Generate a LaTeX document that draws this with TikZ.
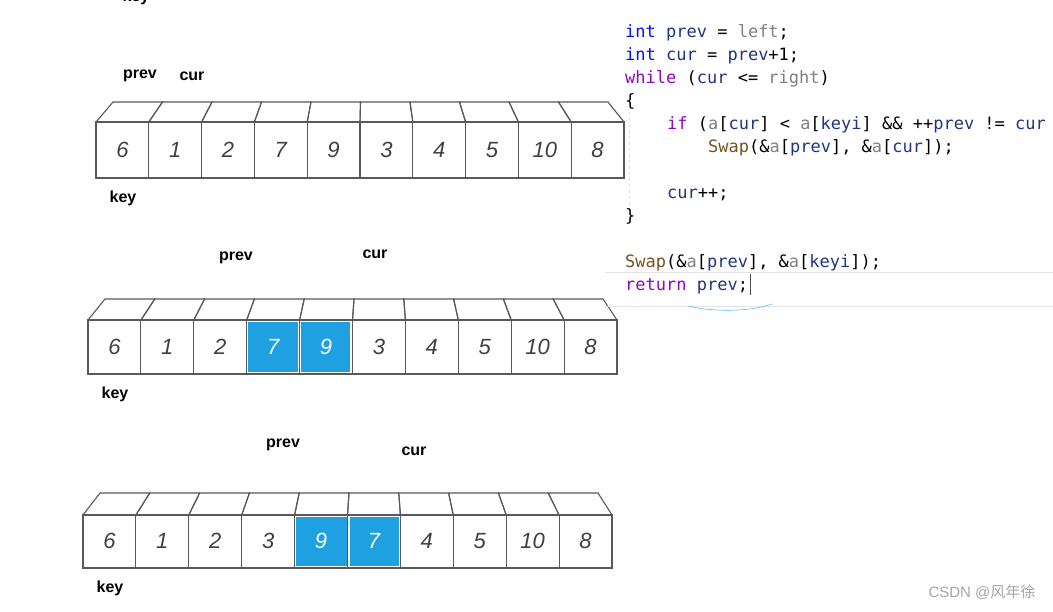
\documentclass[tikz,border=0pt]{standalone}
\usepackage{fontspec}
\setmainfont{Liberation Sans}
\newfontfamily\cf{DejaVu Sans Mono}
\newfontfamily\cjk{Noto Sans CJK SC}
\begin{document}
\begin{tikzpicture}[x=1pt,y=-1pt,
  lbl/.style={font=\bfseries\fontsize{16}{18}\selectfont,inner sep=0},
  dig/.style={font=\itshape\fontsize{22}{24}\selectfont,text=black!75},
  cell/.style={draw=black!65,line width=1.1pt},
  code/.style={anchor=base west,inner sep=0,font=\cf\fontsize{17}{19}\selectfont}]
\definecolor{kw}{RGB}{0,16,255}
\definecolor{vr}{RGB}{31,55,127}
\definecolor{pu}{RGB}{143,8,196}
\definecolor{gy}{RGB}{128,128,128}
\definecolor{sw}{RGB}{116,83,31}
\definecolor{hl}{RGB}{30,160,225}
\useasboundingbox (0,0) rectangle (1053,611);
\fill[white] (0,0) rectangle (1053,611);
\newcommand\myarr[8]{%
  \foreach \v [count=\i from 0] in {6,1,2,7,9,3,4,5,10,8}{%
    \pgfmathsetmacro\fa{#5+(#6-#5)*\i/10}%
    \pgfmathsetmacro\fb{#5+(#6-#5)*(\i+1)/10}%
    \pgfmathsetmacro\ba{#7+(#8-#7)*\i/10}%
    \pgfmathsetmacro\bb{#7+(#8-#7)*(\i+1)/10}%
    \draw[cell] (\fa,#2) -- (\ba,#4) -- (\bb,#4) -- (\fb,#2);
    \draw[cell] (\fa,#2) rectangle (\fb,#3);
  }%
}
\newcommand\digits[5]{%
  \foreach \v [count=\i from 0] in {#5}{%
    \pgfmathsetmacro\cx{#3+(#4-#3)*(\i+0.5)/10}%
    \node[dig] (#1\i) at (\cx,#2) {\v};
  }}
\myarr{a}{122}{178}{102}{96}{624}{113}{608}
\digits{a}{150}{96}{624}{6,1,2,7,9,3,4,5,10,8}
\myarr{b}{320}{374}{299}{88}{617}{105}{603}
\fill[hl] (247.5,322) rectangle (298,372);
\fill[hl] (300.5,322) rectangle (350,372);
\digits{b}{347}{88}{617}{6,1,2,{\textcolor{white}{7}},{\textcolor{white}{9}},3,4,5,10,8}
\myarr{c}{515}{568}{493}{83}{612}{100}{598}
\fill[hl] (296,517) rectangle (347,566);
\fill[hl] (349.5,517) rectangle (399,566);
\digits{c}{541}{83}{612}{6,1,2,3,{\textcolor{white}{9}},{\textcolor{white}{7}},4,5,10,8}
\node[lbl] (k0) at (136,-3) {key};
\node[lbl] (p1) at (140,76) {prev};
\node[lbl] (c1) at (192,76) {cur};
\node[lbl] (k1) at (123,198) {key};
\node[lbl] (p2) at (236,258) {prev};
\node[lbl] (c2) at (375,254) {cur};
\node[lbl] (k2) at (115,394) {key};
\node[lbl] (p3) at (283,445) {prev};
\node[lbl] (c3) at (414,451) {cur};
\node[lbl] (k3) at (110,588) {key};
\draw[black!10] (605,272) -- (1053,272);
\draw[black!10] (605,306) -- (1053,306);
\draw[black!12,dashed] (629,112) -- (629,208);
\node[code] (l1) at (625,37) {\textcolor{kw}{int} \textcolor{vr}{prev} = \textcolor{gy}{left};};
\node[code] (l2) at (625,60) {\textcolor{kw}{int} \textcolor{vr}{cur} = \textcolor{vr}{prev}+1;};
\node[code] (l3) at (625,83) {\textcolor{pu}{while} (\textcolor{vr}{cur} <= \textcolor{gy}{right})};
\node[code] (l4) at (625,106) {\{};
\node[code] (l5) at (667,129) {\textcolor{pu}{if} (\textcolor{gy}{a}[\textcolor{vr}{cur}] < \textcolor{gy}{a}[\textcolor{vr}{keyi}] \&\& ++\textcolor{vr}{prev} != \textcolor{vr}{cur}};
\node[code] (l6) at (708,152) {\textcolor{sw}{Swap}(\&\textcolor{gy}{a}[\textcolor{vr}{prev}], \&\textcolor{gy}{a}[\textcolor{vr}{cur}]);};
\node[code] (l7) at (667,198) {\textcolor{vr}{cur}++;};
\node[code] (l8) at (625,221) {\}};
\node[code] (l9) at (625,267) {\textcolor{sw}{Swap}(\&\textcolor{gy}{a}[\textcolor{vr}{prev}], \&\textcolor{gy}{a}[\textcolor{vr}{keyi}]);};
\node[code] (l10) at (625,290) {\textcolor{pu}{return} \textcolor{vr}{prev};};
\draw[black!70] (750,274) -- (750,295);
\draw[hl!70,line width=0.6pt] (689,306) .. controls (710,312) and (750,312) .. (772,304);
\node[font=\fontsize{15}{17}\selectfont,text=black!35,inner sep=0] (wm) at (982,592) {CSDN @{\cjk 风年徐}};
\end{tikzpicture}
\end{document}
